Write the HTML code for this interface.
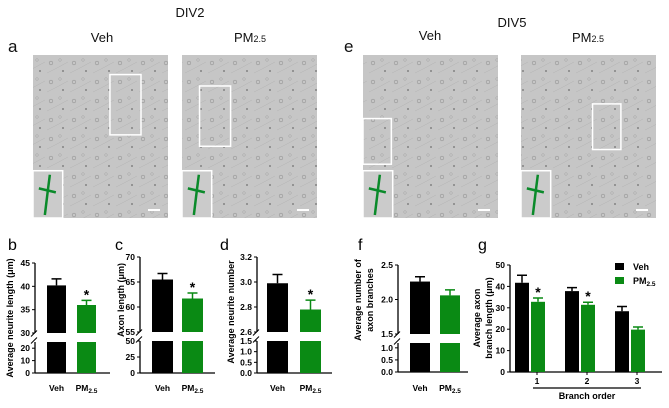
<!DOCTYPE html>
<html><head><meta charset="utf-8"><style>
body{margin:0;background:#fff}
svg{display:block;font-family:"Liberation Sans",sans-serif}
</style></head><body>
<svg id="fig" width="669" height="408" viewBox="0 0 669 408" xmlns="http://www.w3.org/2000/svg">
<defs>
<pattern id="cells" width="23" height="19" patternUnits="userSpaceOnUse">
<rect width="23" height="19" fill="#c6c6c6"/>
<circle cx="5" cy="6" r="1.8" fill="none" stroke="#959595" stroke-width="0.6"/>
<circle cx="17" cy="14" r="0.9" fill="#6e6e6e"/>
<circle cx="14" cy="3" r="1.3" fill="none" stroke="#a4a4a4" stroke-width="0.5"/>
<path d="M1 16 L9 12 L22 5" stroke="#b3b3b3" stroke-width="0.5" fill="none"/>
</pattern>
</defs>
<g font-size="13" fill="#111">
<text x="190" y="17" text-anchor="middle">DIV2</text>
<text x="512" y="27" text-anchor="middle">DIV5</text>
<text x="102" y="42" text-anchor="middle">Veh</text>
<text x="250" y="42" text-anchor="middle">PM<tspan font-size="9">2.5</tspan></text>
<text x="430" y="40" text-anchor="middle">Veh</text>
<text x="588" y="42" text-anchor="middle">PM<tspan font-size="9">2.5</tspan></text>
<text x="8" y="52" font-size="17">a</text>
<text x="344" y="52" font-size="17">e</text>
</g>
<g id="images"></g>
<g id="charts"></g>
</svg>
<script>
const NS="http://www.w3.org/2000/svg";
const svg=document.getElementById('fig');
function el(tag,attrs,parent,text){const e=document.createElementNS(NS,tag);for(const k in attrs)e.setAttribute(k,attrs[k]);if(text!==undefined)e.textContent=text;(parent||svg).appendChild(e);return e;}
const imgs=[
 {n:'div2-veh-image',x:33,box:[0.57,0.12,0.23,0.37]},
 {n:'div2-pm-image',x:182,box:[0.13,0.19,0.23,0.37]},
 {n:'div5-veh-image',x:363,box:[0,0.39,0.21,0.28]},
 {n:'div5-pm-image',x:521,box:[0.53,0.3,0.21,0.28]}
];
const ig=document.getElementById('images');
imgs.forEach(m=>{
 const w=135,h=163,y=55;
 const g=el('g',{},ig);
 
 
 el('rect',{x:m.x,y:y,width:w,height:h,fill:'url(#cells)'},g);
 el('rect',{x:m.box[0]*w+m.x,y:y+m.box[1]*h,width:m.box[2]*w,height:m.box[3]*h,fill:'none',stroke:'#fff','stroke-width':1.5},g);
 const iw=w*0.22,ih=h*0.29;
 el('rect',{x:m.x,y:y+h-ih,width:iw,height:ih,fill:'#cbcbcb',stroke:'#fff','stroke-width':1.5},g);
 const cx=m.x+iw/2,cy=y+h-ih/2;
 el('path',{d:`M${cx-3} ${cy+ih/2-3} L${cx} ${cy-4} L${cx+2} ${cy-ih/2+4} M${cx-9} ${cy-6} L${cx+8} ${cy-2}`,stroke:'#0a8a2a','stroke-width':2.5,fill:'none'},g);
 el('line',{x1:m.x+w-20,x2:m.x+w-8,y1:y+h-8,y2:y+h-8,stroke:'#fff','stroke-width':2},g);
});

// ---- chart data ----
const groups=['Veh','PM2.5'];
const bVals=[40.2,36.0], bErr=[1.4,1.0];
const cVals=[65.5,61.7], cErr=[1.2,1.1];
const dVals=[2.99,2.78], dErr=[0.07,0.075];
const fVals=[2.26,2.06], fErr=[0.07,0.08];
const bTicksU=[30,35,40,45], bTicksL=[0,10,20];
const cTicksU=[55,60,65,70], cTicksL=[0,25,50];
const dTicksU=[2.6,2.8,3.0,3.2], dTicksL=[0.0,0.5,1.0,1.5];
const fTicksU=[1.5,2.0,2.5], fTicksL=[0.0,0.5,1.0];
const branchOrders=['1','2','3'];
const gVeh=[41.7,37.8,28.4], gVehErr=[3.5,1.6,2.2];
const gPM=[32.8,31.4,19.8], gPMErr=[1.8,1.2,1.2];
const gTicks=[0,10,20,30,40,50];
const bSig=[false,true], cSig=[false,true], dSig=[false,true], fSig=[false,false];
const gSig=[true,true,false];

const C=document.getElementById('charts');
const colors=['#000','#0a8a14'];
function lin(d0,d1,p0,p1){return v=>p0+(v-d0)*(p1-p0)/(d1-d0);}
function fmt(v,dec){return v.toFixed(dec);}

function broken(cfg){
 const g=el('g',{},C);
 
 
 const yU=lin(cfg.uDom[0],cfg.uDom[1],cfg.uPx[0],cfg.uPx[1]);
 const yL=lin(cfg.lDom[0],cfg.lDom[1],cfg.lPx[0],cfg.lPx[1]);
 const ax=cfg.ax;
 el('line',{x1:ax,x2:ax,y1:cfg.uPx[1],y2:cfg.uPx[0],stroke:'#000','stroke-width':1.3},g);
 el('line',{x1:ax,x2:ax,y1:cfg.lPx[1],y2:cfg.lPx[0],stroke:'#000','stroke-width':1.3},g);
 el('line',{x1:ax,x2:cfg.axEnd,y1:cfg.lPx[0],y2:cfg.lPx[0],stroke:'#000','stroke-width':1.3},g);
 const bm=(cfg.uPx[0]+cfg.lPx[1])/2;
 el('path',{d:`M${ax-4} ${bm-1} L${ax+2} ${bm-7} M${ax-4} ${bm+6} L${ax+2} ${bm}`,stroke:'#000','stroke-width':1},g);
 cfg.tU.forEach(t=>{const y=yU(t);el('line',{x1:ax-3,x2:ax,y1:y,y2:y,stroke:'#000'},g);
  const tx=el('text',{x:ax-5,y:y+3,'text-anchor':'end','font-size':8.5,'font-weight':'bold'},g,fmt(t,cfg.dec));
  });
 cfg.tL.forEach(t=>{const y=yL(t);el('line',{x1:ax-3,x2:ax,y1:y,y2:y,stroke:'#000'},g);
  const tx=el('text',{x:ax-5,y:y+3,'text-anchor':'end','font-size':8.5,'font-weight':'bold'},g,fmt(t,cfg.dec));
  });
 cfg.vals.forEach((v,i)=>{
  const x=cfg.bx[i],w=cfg.bw;
  const b1=el('rect',{x:x,y:yU(v),width:w,height:cfg.uPx[0]-yU(v),fill:colors[i]},g);
  
  
  const b2=el('rect',{x:x,y:cfg.lPx[1],width:w,height:cfg.lPx[0]-cfg.lPx[1],fill:colors[i]},g);
  
  
  const ye=yU(v+cfg.err[i]);
  el('path',{d:`M${x+w/2} ${yU(v)} V${ye} M${x+w/2-5} ${ye} H${x+w/2+5}`,stroke:colors[i],'stroke-width':1.5,fill:'none'},g);
  if(cfg.sig[i]) el('text',{x:x+w/2,y:ye-1,'text-anchor':'middle','font-size':14,'font-weight':'bold'},g,'*');
  const lab=el('text',{x:x+w/2,y:391,'text-anchor':'middle','font-size':8.5,'font-weight':'bold'},g);
  
  if(i===0) lab.textContent='Veh'; else {lab.textContent='PM';el('tspan',{'font-size':6.5,dy:2},lab,'2.5');}
 });
 cfg.title.forEach((t,k)=>{const tt=el('text',{transform:`translate(${cfg.tx+k*12},${cfg.ty}) rotate(-90)`,'text-anchor':'middle','font-size':9,'font-weight':'bold'},g,t);
  });
 el('text',{x:cfg.lx,y:250,'font-size':16},g,cfg.letter);
}
broken({name:'chart-b',letter:'b',lx:8,ax:35,axEnd:110,uDom:[30,45],uPx:[333,263],lDom:[0,25],lPx:[373,342],tU:bTicksU,tL:bTicksL,dec:0,vals:bVals,err:bErr,sig:bSig,bx:[47,77],bw:19,title:['Average neurite length (μm)'],tx:13,ty:318});
broken({name:'chart-c',letter:'c',lx:115,ax:140,axEnd:215,uDom:[55,70],uPx:[332,257],lDom:[0,50],lPx:[373,341],tU:cTicksU,tL:cTicksL,dec:0,vals:cVals,err:cErr,sig:cSig,bx:[152,182],bw:21,title:['Axon length (μm)'],tx:124,ty:300});
broken({name:'chart-d',letter:'d',lx:220,ax:257,axEnd:332,uDom:[2.6,3.2],uPx:[332,257],lDom:[0,1.5],lPx:[373,341],tU:dTicksU,tL:dTicksL,dec:1,vals:dVals,err:dErr,sig:dSig,bx:[267,300],bw:21,title:['Average neurite number'],tx:234,ty:312});
broken({name:'chart-f',letter:'f',lx:358,ax:398,axEnd:468,uDom:[1.5,2.5],uPx:[334,265],lDom:[0,1.2],lPx:[372,343],tU:fTicksU,tL:fTicksL,dec:1,vals:fVals,err:fErr,sig:fSig,bx:[410,440],bw:20,title:['Average number of','axon branches'],tx:361,ty:300});

(function(){
 const g=el('g',{},C);
 
 
 const ax=510,y=lin(0,50,372,265);
 el('line',{x1:ax,x2:ax,y1:265,y2:372,stroke:'#000','stroke-width':1.3},g);
 el('line',{x1:ax,x2:662,y1:372,y2:372,stroke:'#000','stroke-width':1.3},g);
 gTicks.forEach(t=>{el('line',{x1:ax-3,x2:ax,y1:y(t),y2:y(t),stroke:'#000'},g);
  const tx=el('text',{x:ax-5,y:y(t)+3,'text-anchor':'end','font-size':8.5,'font-weight':'bold'},g,String(t));
  });
 branchOrders.forEach((o,i)=>{
  const cx=529+i*50;
  [[gVeh,gVehErr,0,cx-7],[gPM,gPMErr,1,cx+9]].forEach(([vals,errs,s,x])=>{
   const v=vals[i],bw=14,bx=x-bw/2;
   const r=el('rect',{x:bx,y:y(v),width:bw,height:372-y(v),fill:colors[s]},g);
   
   
   const ye=y(v+errs[i]);
   el('path',{d:`M${x} ${y(v)} V${ye} M${x-5} ${ye} H${x+5}`,stroke:colors[s],'stroke-width':1.5,fill:'none'},g);
   if(s===1&&gSig[i]) el('text',{x:x,y:ye-1,'text-anchor':'middle','font-size':14,'font-weight':'bold'},g,'*');
  });
  el('line',{x1:cx+8,x2:cx+8,y1:372,y2:375,stroke:'#000'},g);
  const lt=el('text',{x:cx+8,y:384,'text-anchor':'middle','font-size':8.5,'font-weight':'bold'},g,o);
  
 });
 el('line',{x1:533,x2:641,y1:388,y2:388,stroke:'#000','stroke-width':1.2},g);
 const xt=el('text',{x:587,y:399,'text-anchor':'middle','font-size':9,'font-weight':'bold'},g,'Branch order');
 
 ['Average axon','branch length (μm)'].forEach((t,k)=>{const tt=el('text',{transform:`translate(${480+k*12},318) rotate(-90)`,'text-anchor':'middle','font-size':9,'font-weight':'bold'},g,t);
  });
 el('text',{x:478,y:250,'font-size':16},g,'g');
 const lg=el('g',{},g);
 
 
 el('rect',{x:615,y:263,width:9,height:7,fill:colors[0]},lg);
 el('text',{x:633,y:270,'font-size':9,'font-weight':'bold'},lg,'Veh');
 el('rect',{x:615,y:277,width:9,height:7,fill:colors[1]},lg);
 const pt=el('text',{x:633,y:284,'font-size':9,'font-weight':'bold'},lg,'PM');
 el('tspan',{'font-size':6.5,dy:2},pt,'2.5');
})();
</script>
</body></html>
